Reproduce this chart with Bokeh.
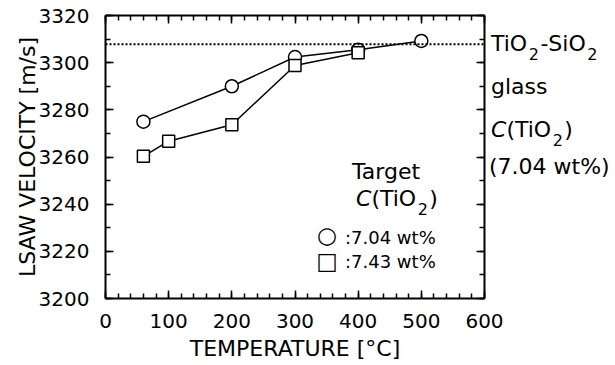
from bokeh.plotting import figure
from bokeh.models import LinearAxis, SingleIntervalTicker, Range1d, Span, GridBox, Div
from bokeh.embed import file_html
from bokeh.resources import INLINE

# ---- data ----
temp_704 = [60, 200, 300, 400, 500]
vel_704 = [3275.0, 3290.0, 3302.4, 3305.5, 3309.2]
temp_743 = [60, 100, 200, 300, 400]
vel_743 = [3260.3, 3266.7, 3273.7, 3298.8, 3304.2]
glass_velocity = 3307.8
x_limits = (0, 600)
y_limits = (3200, 3320)
x_major_step = 100
y_major_step = 20

FONT = "DejaVu Sans"
TICK_SIZE = "20px"
LABEL_SIZE = "22px"

p = figure(frame_width=379, frame_height=283,
           x_range=Range1d(*x_limits), y_range=Range1d(*y_limits),
           output_backend="svg", toolbar_location=None,
           min_border_left=105, min_border_right=22,
           min_border_top=15, min_border_bottom=0,
           x_axis_label="TEMPERATURE [°C]",
           y_axis_label="LSAW VELOCITY [m/s]")
p.xgrid.visible = False
p.ygrid.visible = False
p.outline_line_color = None
p.background_fill_color = "white"
p.border_fill_color = "white"

p.add_layout(LinearAxis(), "above")
p.add_layout(LinearAxis(), "right")


def style_axis(ax, step, minor, show_labels):
    ax.ticker = SingleIntervalTicker(interval=step, num_minor_ticks=minor)
    ax.axis_line_color = "black"
    ax.axis_line_width = 2
    ax.major_tick_line_color = "black"
    ax.major_tick_line_width = 1.5
    ax.minor_tick_line_color = "black"
    ax.minor_tick_line_width = 1.5
    ax.major_tick_in = 8
    ax.major_tick_out = 0
    ax.minor_tick_in = 5
    ax.minor_tick_out = 0
    if show_labels:
        ax.major_label_text_font = FONT
        ax.major_label_text_font_size = TICK_SIZE
        ax.major_label_text_color = "black"
        ax.axis_label_text_font = FONT
        ax.axis_label_text_font_size = LABEL_SIZE
        ax.axis_label_text_font_style = "normal"
        ax.axis_label_text_color = "black"
    else:
        ax.major_label_text_font_size = "0px"
        ax.major_label_text_color = None
        ax.major_label_standoff = 0
        ax.axis_label = None


for ax in p.below + p.above:
    style_axis(ax, x_major_step, 5, ax in p.below)
for ax in p.left + p.right:
    style_axis(ax, y_major_step, 2, ax in p.left)

bottom_axis = p.below[0]
bottom_axis.major_label_standoff = 15
bottom_axis.axis_label_standoff = 5
left_axis = p.left[0]
left_axis.major_label_standoff = 16
left_axis.axis_label_standoff = -4

# glass reference line
p.add_layout(Span(location=glass_velocity, dimension="width",
                  line_color="black", line_width=2, line_dash="2 2"))

# series
p.line(temp_704, vel_704, line_color="black", line_width=1.5)
p.scatter(temp_704, vel_704, marker="circle", size=13,
          fill_color="white", line_color="black", line_width=1.5)
p.line(temp_743, vel_743, line_color="black", line_width=1.5)
p.scatter(temp_743, vel_743, marker="square", size=12,
          fill_color="white", line_color="black", line_width=1.5)

# ---- annotation texts (HTML overlay, with real subscripts / italics) ----
ASC = 0.846  # baseline position inside a line box of line-height 1 (DejaVu Sans)


def sub(t):
    return (f'<span style="font-size:16px;position:relative;top:9px;'
            f'margin:0 1.5px">{t}</span>')


def line(left, baseline, html, size=22):
    top = baseline - ASC * size
    return (f'<span style="position:absolute;left:{left}px;top:{top:.1f}px;'
            f'font-size:{size}px;line-height:{size}px;white-space:nowrap">'
            f'{html}</span>')


def symbol(cx, cy, ch, size=23):
    return (f'<span style="position:absolute;left:{cx}px;top:{cy}px;'
            f'transform:translate(-50%,-50%);font-size:{size}px;'
            f'line-height:{size}px">{ch}</span>')


ctio2 = f"<i>C</i>(TiO{sub('2')})"
parts = [
    line(486, 47, f"TiO{sub('2')}-SiO{sub('2')}"),
    line(486, 90, "glass"),
    line(486, 133, ctio2),
    line(484, 170, "(7.04 wt%)"),
    line(347, 175, "Target"),
    line(351, 202, ctio2),
    symbol(322, 230, "○"),
    line(340, 239, ":7.04 wt%", 18),
    symbol(322, 256, "□"),
    line(340, 263, ":7.43 wt%", 18),
]
overlay = Div(text=(f'<div style="position:relative;width:607px;height:300px;'
                    f'font-family:\'{FONT}\';color:black">' + "".join(parts) + "</div>"),
              width=607, height=300)

layout = GridBox(children=[(p, 0, 0), (overlay, 0, 0)])
open("out.html", "w").write(file_html(layout, INLINE))
